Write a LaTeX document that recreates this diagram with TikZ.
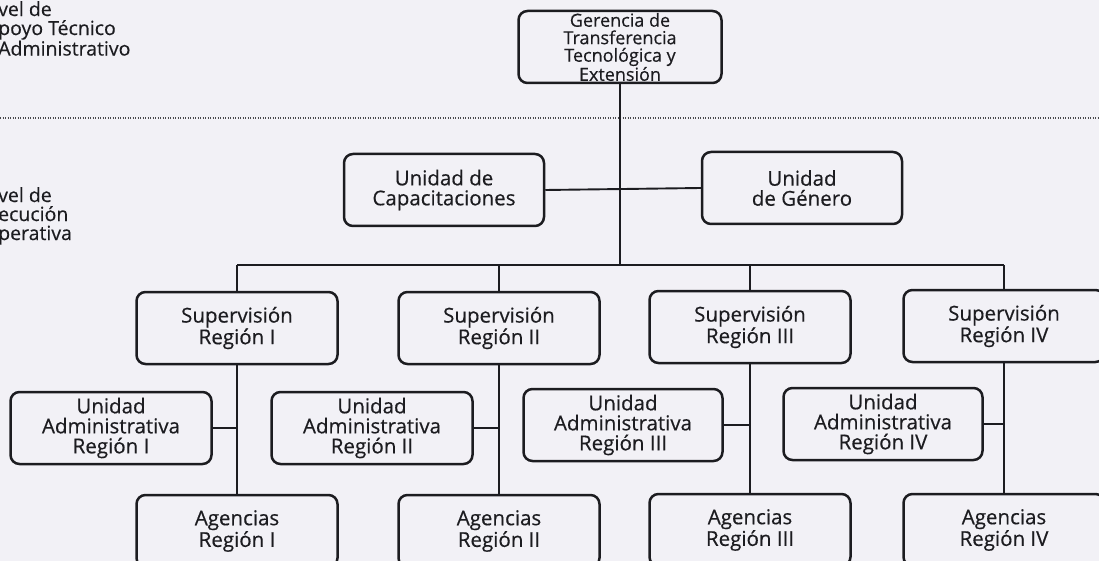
\documentclass[tikz,border=0pt]{standalone}
\usepackage{fontspec}
\setmainfont{Open Sans}[FakeBold=0.4]
\definecolor{scanbg}{RGB}{242,241,246}
\definecolor{ink}{RGB}{28,28,32}

\begin{document}
\begin{tikzpicture}[x=1pt,y=-1pt,
	unit/.style={draw=ink,line width=2.5pt,rounded corners=9pt,align=center,text=ink,
		font=\fontsize{20.5}{20}\selectfont,minimum width=201pt,minimum height=72pt,inner sep=0pt},
	link/.style={draw=ink,line width=1.9pt},
	levellabel/.style={anchor=north west,align=left,text=ink,inner sep=0pt,
		font=\fontsize{19.5}{19}\selectfont}]

	% Paper and frame
	\fill[scanbg] (0,0) rectangle (1099,561);
	\useasboundingbox (0,0) rectangle (1099,561);

	% Level separator
	\coordinate (sepL) at (0,118);
	\coordinate (sepR) at (1099,118);
	\draw[ink!80,line width=1.3pt,dash pattern=on 1.2pt off 1.3pt] (sepL) -- (sepR);

	% Level labels
	\node[levellabel] (apoyo) at (-2,1) {vel de\\poyo Técnico\\Administrativo};
	\node[levellabel] (ejecucion) at (-2,187) {vel de\\ecución\\perativa};

	% Management
	\node[unit,minimum width=203pt,font=\fontsize{18}{17.5}\selectfont] (gerencia) at (620,47)
		{Gerencia de\\Transferencia\\Tecnológica y\\Extensión};
	\node[unit,minimum width=200pt] (capacit) at (444,190) {Unidad de\\Capacitaciones};
	\node[unit,minimum width=200pt] (genero) at (802,188) {Unidad\\de Género};

	% Supervision per region
	\node[unit] (sup1) at (237,328) {Supervisión\\Región I};
	\node[unit] (sup2) at (499,328) {Supervisión\\Región II};
	\node[unit] (sup3) at (750,327) {Supervisión\\Región III};
	\node[unit] (sup4) at (1004,326) {Supervisión\\Región IV};

	% Administrative units
	\node[unit] (adm1) at (111,428) {Unidad\\Administrativa\\Región I};
	\node[unit] (adm2) at (372,428) {Unidad\\Administrativa\\Región II};
	\node[unit,minimum width=199pt] (adm3) at (623,425) {Unidad\\Administrativa\\Región III};
	\node[unit,minimum width=199pt] (adm4) at (883,424) {Unidad\\Administrativa\\Región IV};

	% Agencies
	\node[unit] (ag1) at (237,531) {Agencias\\Región I};
	\node[unit] (ag2) at (499,531) {Agencias\\Región II};
	\node[unit] (ag3) at (750,530) {Agencias\\Región III};
	\node[unit] (ag4) at (1004,530) {Agencias\\Región IV};

	% Trunk and bus
	\coordinate (bus) at (620,265);
	\draw[link] (gerencia.south) -- (bus);
	\draw[link] (capacit.east) -- (genero.west);
	\draw[link] (sup1.north |- bus) -- (sup4.north |- bus);

	\foreach \r in {1,...,4} {
		\draw[link] (sup\r.north |- bus) -- (sup\r.north);
		\draw[link] (sup\r.south) -- (ag\r.north);
		\draw[link] (adm\r.east) -- (adm\r.east -| sup\r.south);
	}

\end{tikzpicture}
\end{document}
